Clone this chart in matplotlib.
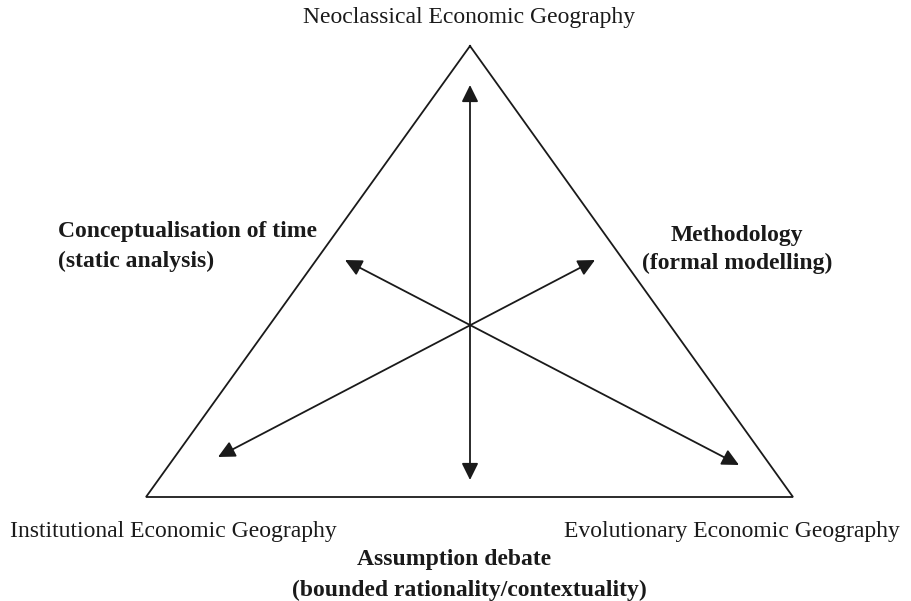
import matplotlib.pyplot as plt

plt.rcParams['font.family'] = 'Liberation Serif'

# triangle corners (pixel coords, y down)
corners_x = [470, 146, 793]
corners_y = [46, 497, 497]

# double headed arrows: (x0, y0, x1, y1)
arrows = [
    (470, 85, 470, 480),
    (218, 457, 595, 260),
    (345, 260, 739, 465),
]

corner_labels = ['Neoclassical Economic Geography',
                 'Institutional Economic Geography',
                 'Evolutionary Economic Geography']
debate_labels = [['Conceptualisation of time', '(static analysis)'],
                 ['Methodology', '(formal modelling)'],
                 ['Assumption debate', '(bounded rationality/contextuality)']]

fig = plt.figure(figsize=(9.12, 6.01), dpi=100)
ax = fig.add_axes([0, 0, 1, 1])
ax.set_xlim(0, 912)
ax.set_ylim(601, 0)
ax.axis('off')

ax.plot(corners_x + [corners_x[0]], corners_y + [corners_y[0]],
        color='#1a1a1a', lw=1.3, solid_joinstyle='miter')

for x0, y0, x1, y1 in arrows:
    ax.annotate('', xy=(x1, y1), xytext=(x0, y0),
                arrowprops=dict(arrowstyle='<|-|>,head_length=0.85,head_width=0.42',
                                mutation_scale=12, color='#1a1a1a', lw=1.3,
                                shrinkA=0, shrinkB=0))

fs = 17
ax.text(469.5, 23, corner_labels[0], ha='center', va='baseline', fontsize=fs, color='#1a1a1a')
ax.text(10, 537, corner_labels[1], ha='left', va='baseline', fontsize=fs, color='#1a1a1a')
ax.text(900, 537, corner_labels[2], ha='right', va='baseline', fontsize=fs, color='#1a1a1a')

ax.text(58, 237, debate_labels[0][0], ha='left', va='baseline', fontsize=fs, fontweight='bold', color='#1a1a1a')
ax.text(58, 267, debate_labels[0][1], ha='left', va='baseline', fontsize=fs, fontweight='bold', color='#1a1a1a')
ax.text(737, 241, debate_labels[1][0], ha='center', va='baseline', fontsize=fs, fontweight='bold', color='#1a1a1a')
ax.text(737, 269, debate_labels[1][1], ha='center', va='baseline', fontsize=fs, fontweight='bold', color='#1a1a1a')
ax.text(454, 565, debate_labels[2][0], ha='center', va='baseline', fontsize=fs, fontweight='bold', color='#1a1a1a')
ax.text(469, 596, debate_labels[2][1], ha='center', va='baseline', fontsize=fs, fontweight='bold', color='#1a1a1a')

fig.savefig('out.png', dpi=100)
